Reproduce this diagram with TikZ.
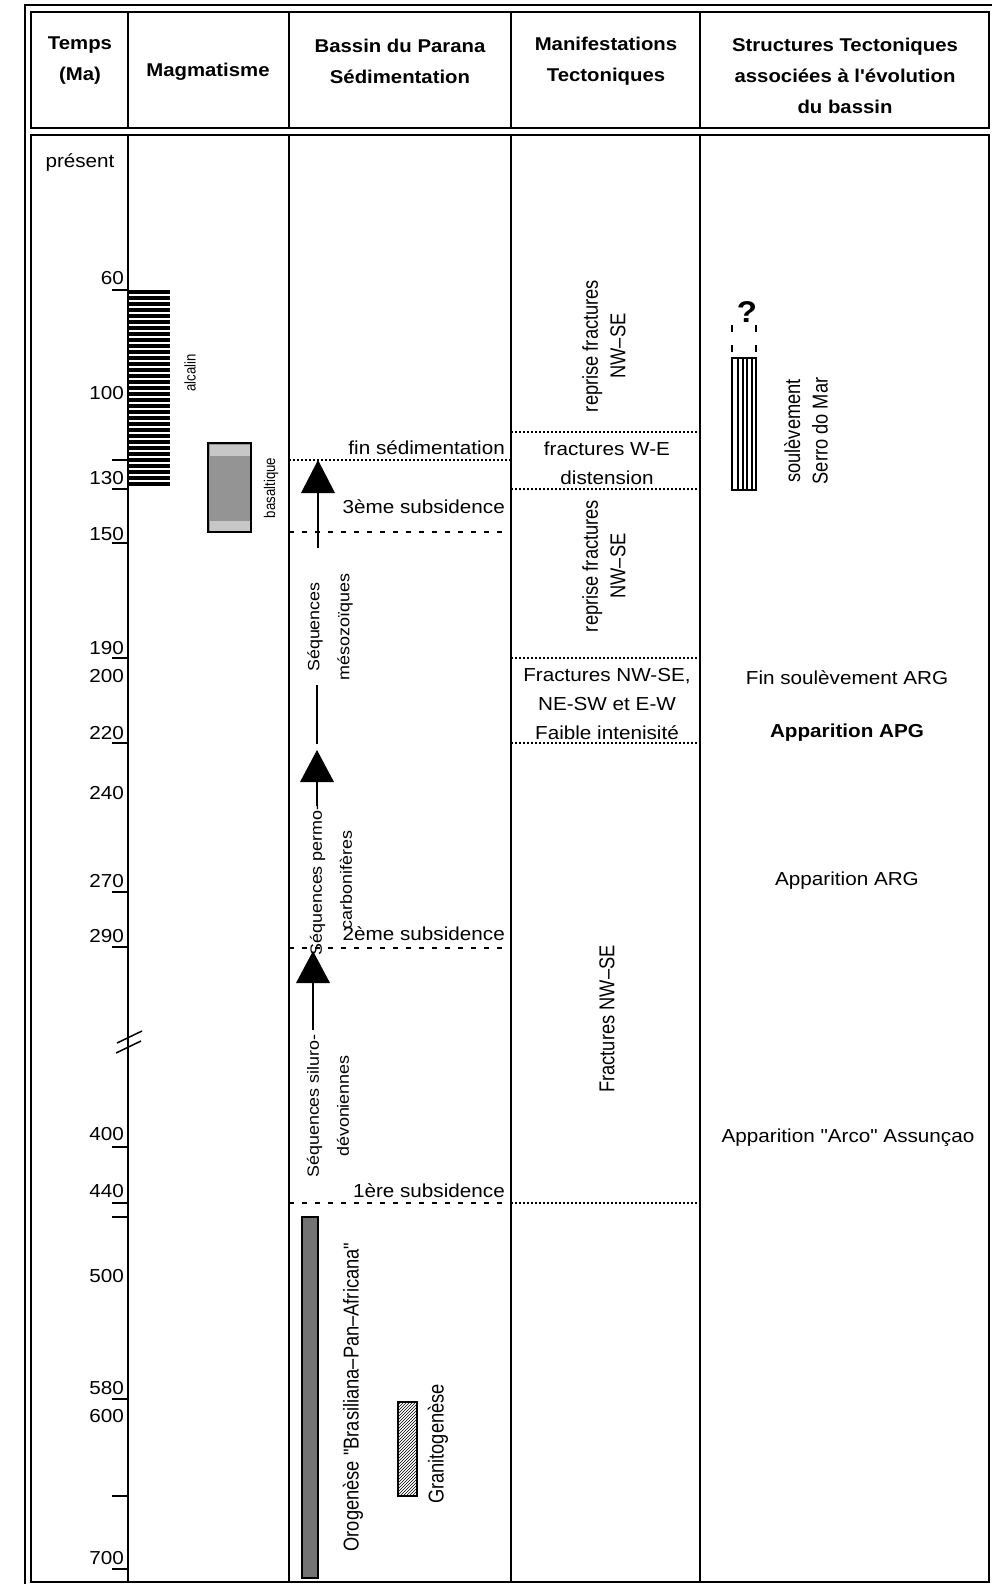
\documentclass[tikz,border=0pt]{standalone}
\usepackage{fontspec}
\setmainfont{Liberation Sans}[FakeStretch=1.1,Ligatures=TeXOff]
\newfontfamily\narrowfont{Liberation Sans}[FakeStretch=0.85]
\usetikzlibrary{patterns}
\newcommand\HdrFont{\fontsize{18.5}{31}\selectfont\bfseries}
\newcommand\TxtFont{\fontsize{18.8}{29}\selectfont}
\newcommand\NarFont{\narrowfont\fontsize{21.5}{27.5}\selectfont}
\newcommand\SeqFont{\fontsize{16.3}{30}\selectfont}
\newcommand\TinyNar{\narrowfont\fontsize{15.5}{16}\selectfont}
\begin{document}
\begin{tikzpicture}[x=1pt,y=-1pt,
  frame/.style={line width=2pt},
  col/.style={line width=2pt},
  tick/.style={line width=1.5pt},
  dotline/.style={line width=2.4pt,dash pattern=on 2pt off 2pt},
  dashline/.style={line width=1.5pt,dash pattern=on 5pt off 8pt},
  hdr/.style={font=\HdrFont,align=center,inner sep=0pt},
  txt/.style={font=\TxtFont,align=center,inner sep=0pt},
  lbl/.style={font=\TxtFont,anchor=east,inner sep=0pt},
  rtxt/.style={font=\TxtFont,anchor=east,inner sep=0pt},
  nar/.style={font=\NarFont,align=center,rotate=90,inner sep=0pt},
  seq/.style={font=\SeqFont,align=center,rotate=90,inner sep=0pt},
  tri/.style={fill=black},
  stem/.style={line width=1.3pt}
]
\useasboundingbox (0,0) rectangle (992,1584);
\fill[white] (0,0) rectangle (992,1584);

% outer offset lines
\draw[frame] (25,1584) -- (25,5) -- (992,5);
% header box and body box
\draw[frame] (31,12) rectangle (989,128);
\draw[frame] (31,135) rectangle (989,1582);
% column separators
\foreach \xx in {128,289,511,700} {
  \draw[col] (\xx,12) -- (\xx,128);
  \draw[col] (\xx,135) -- (\xx,1582);
}

% headers
\node[hdr] (h1) at (80,61) {Temps\\(Ma)};
\node[hdr] (h2) at (208,72) {Magmatisme};
\node[hdr] (h3) at (400,61) {Bassin du Parana\\Sédimentation};
\node[hdr] (h4) at (606,61) {Manifestations\\Tectoniques};
\node[hdr] (h5) at (845,76) {Structures Tectoniques\\associées à l'évolution\\du bassin};

% time axis ticks
\foreach \yy in {290,460,489,543,658,743,892,947,1147,1203,1217,1399,1496,1569}
  \draw[tick] (112,\yy) -- (128,\yy);
% axis break
\draw[tick] (117,1043) -- (142,1031);
\draw[tick] (116,1053) -- (141,1041);

% time labels
\node[txt] (tp) at (80,163) {présent};
\node[lbl] (t60) at (124,278) {60};
\node[lbl] (t100) at (124,393) {100};
\node[lbl] (t130) at (124,478) {130};
\node[lbl] (t150) at (124,534) {150};
\node[lbl] (t190) at (124,648) {190};
\node[lbl] (t200) at (124,676) {200};
\node[lbl] (t220) at (124,733) {220};
\node[lbl] (t240) at (124,793) {240};
\node[lbl] (t270) at (124,881) {270};
\node[lbl] (t290) at (124,936) {290};
\node[lbl] (t400) at (124,1134) {400};
\node[lbl] (t440) at (124,1191) {440};
\node[lbl] (t500) at (124,1276) {500};
\node[lbl] (t580) at (124,1388) {580};
\node[lbl] (t600) at (124,1416) {600};
\node[lbl] (t700) at (124,1558) {700};

% Magmatisme: alcalin bar
\foreach \yy in {292,298,...,488}
  \draw[line width=3.2pt] (128,\yy) -- (170,\yy);
\node[font=\TinyNar,rotate=90,inner sep=0pt] (alc) at (190,373) {alcalin};
% basaltique box
\draw[line width=1.5pt,fill=black!42] (208,443) rectangle (251,532);
\fill[black!22] (209.5,445) rectangle (249.5,456);
\fill[black!22] (209.5,521) rectangle (249.5,530.5);
\node[font=\TinyNar,rotate=90,inner sep=0pt] (bas) at (271,488) {basaltique};

% Bassin: lines
\draw[dotline] (289,460) -- (511,460);
\draw[dashline] (289,532) -- (511,532);
\draw[dashline] (289,948) -- (511,948);
\draw[dashline] (289,1203) -- (511,1203);
\node[rtxt] (fs) at (505,448) {fin sédimentation};
\node[rtxt] (s3) at (505,507) {3ème subsidence};
\node[rtxt] (s2) at (505,934) {2ème subsidence};
\node[rtxt] (s1) at (505,1191) {1ère subsidence};

% arrows
\fill[tri] (318,460) -- (301,493) -- (335,493) -- cycle;
\coordinate (a1b) at (318,493);
\coordinate (a1e) at (318,548);
\draw[stem] (a1b) -- (a1e);
\node[seq] (seqm) at (330,627) {Séquences\\mésozoïques};
\coordinate (a2s) at (317,685);
\coordinate (a2t) at (317,744);
\draw[stem] (a2s) -- (a2t);
\fill[tri] (317,750) -- (300,782) -- (334,782) -- cycle;
\coordinate (a2b) at (317,782);
\coordinate (a2e) at (317,806);
\draw[stem] (a2b) -- (a2e);
\node[seq] (seqp) at (331,880) {Séquences permo-\\carbonifères};
\fill[tri] (313,951) -- (296,983) -- (330,983) -- cycle;
\coordinate (a3b) at (313,983);
\coordinate (a3e) at (313,1030);
\draw[stem] (a3b) -- (a3e);
\node[seq] (seqs) at (328,1106) {Séquences siluro-\\dévoniennes};

% Orogenese and granitogenese bars
\draw[line width=1.2pt,fill=black!55] (302,1217) rectangle (318,1578);
\node[nar] (oro) at (353,1397) {Orogenèse "Brasiliana–Pan–Africana"};
\fill[pattern=north east lines,pattern color=black] (398,1402) rectangle (417,1496);
\draw[line width=1.5pt] (398,1402) rectangle (417,1496);
\node[nar] (gra) at (438,1444) {Granitogenèse};

% Manifestations tectoniques
\node[nar] (rf1) at (604,346) {reprise fractures\\NW–SE};
\draw[dotline] (511,432) -- (700,432);
\node[txt] (fwe) at (607,463) {fractures W-E\\distension};
\draw[dotline] (511,489) -- (700,489);
\node[nar] (rf2) at (604,566) {reprise fractures\\NW–SE};
\draw[dotline] (511,658) -- (700,658);
\node[txt] (fnw) at (607,704) {Fractures NW-SE,\\NE-SW et E-W\\Faible intenisité};
\draw[dotline] (511,743) -- (700,743);
\node[nar] (fnw2) at (607,1019) {Fractures NW–SE};
\draw[dotline] (511,1203) -- (700,1203);

% Structures tectoniques
\node[font=\fontsize{30}{32}\selectfont\bfseries,inner sep=0pt] (qm) at (747,312) {?};
\draw[line width=1.3pt,dash pattern=on 7pt off 13pt] (732,325) -- (732,352);
\draw[line width=1.3pt,dash pattern=on 7pt off 13pt] (756,325) -- (756,352);
\draw[line width=1.5pt] (732,358) rectangle (756,490);
\foreach \xx in {738,743,747,752}
  \draw[line width=1.1pt] (\xx,358) -- (\xx,490);
\node[nar] (sm) at (806,431) {soulèvement\\Serro do Mar};
\node[txt] (fsa) at (847,678) {Fin soulèvement ARG};
\node[txt,font=\TxtFont\bfseries] (apg) at (847,733) {Apparition APG};
\node[txt] (arg) at (847,881) {Apparition ARG};
\node[txt] (arco) at (848,1138) {Apparition "Arco" Assunçao};
\end{tikzpicture}
\end{document}
